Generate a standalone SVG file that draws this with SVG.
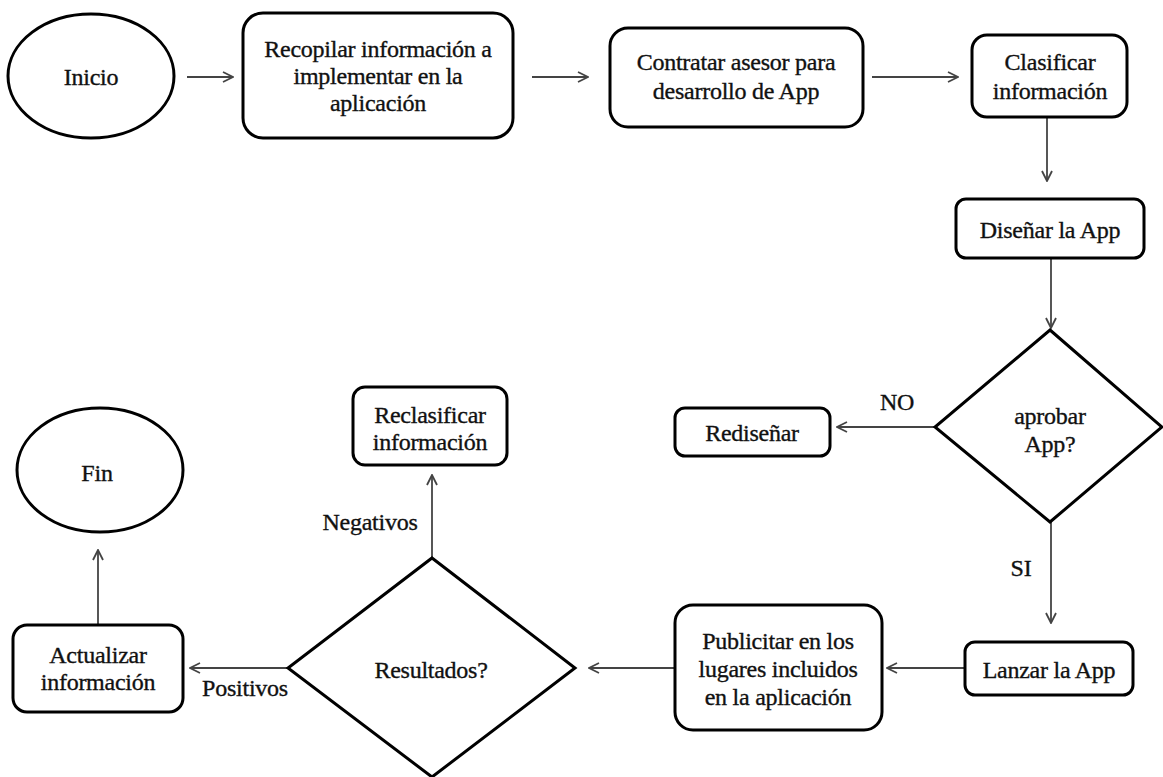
<svg xmlns="http://www.w3.org/2000/svg" width="1163" height="777" viewBox="0 0 1163 777" font-family="Liberation Serif, Times New Roman, DejaVu Serif, serif">
<defs>
<style>
.node{fill:#fff;stroke:#000;stroke-width:3}
.t{font-size:24px;fill:#111;stroke:#111;stroke-width:0.35px;text-anchor:middle;letter-spacing:-0.25px}
.c{fill:none;stroke:#444;stroke-width:1.8}
</style>
<marker id="ah" viewBox="0 0 12 12" refX="11" refY="6" markerWidth="12" markerHeight="12" markerUnits="userSpaceOnUse" orient="auto">
<path d="M1,1 L11,6 L1,11" fill="none" stroke="#444" stroke-width="1.8"/>
</marker>
</defs>
<rect width="1163" height="777" fill="#fff"/>
<g id="connectors">
<line class="c" x1="187" y1="77" x2="233" y2="77" marker-end="url(#ah)"/>
<line class="c" x1="532" y1="77" x2="588" y2="77" marker-end="url(#ah)"/>
<line class="c" x1="872" y1="77" x2="958" y2="77" marker-end="url(#ah)"/>
<line class="c" x1="1047" y1="117" x2="1047" y2="181" marker-end="url(#ah)"/>
<line class="c" x1="1051" y1="258" x2="1051" y2="328" marker-end="url(#ah)"/>
<line class="c" x1="935" y1="427" x2="837" y2="427" marker-end="url(#ah)"/>
<line class="c" x1="1051" y1="522" x2="1051" y2="623" marker-end="url(#ah)"/>
<line class="c" x1="965" y1="668" x2="887" y2="668" marker-end="url(#ah)"/>
<line class="c" x1="675" y1="668" x2="589" y2="668" marker-end="url(#ah)"/>
<line class="c" x1="432" y1="558" x2="432" y2="475" marker-end="url(#ah)"/>
<line class="c" x1="288" y1="668" x2="190" y2="668" marker-end="url(#ah)"/>
<line class="c" x1="98" y1="625" x2="98" y2="550" marker-end="url(#ah)"/>
<text class="t" x="897" y="410">NO</text>
<text class="t" x="1021" y="576">SI</text>
<text class="t" x="370" y="530">Negativos</text>
<text class="t" x="245" y="696">Positivos</text>
</g>
<g id="inicio">
<ellipse class="node" cx="91" cy="76" rx="83" ry="62"/>
<text class="t" x="91" y="85">Inicio</text>
</g>
<g id="recopilar">
<rect class="node" x="243" y="13" width="270" height="125" rx="20"/>
<text class="t" x="378" y="57">Recopilar información a</text>
<text class="t" x="378" y="84">implementar  en la</text>
<text class="t" x="378" y="111">aplicación</text>
</g>
<g id="contratar">
<rect class="node" x="610" y="28" width="253" height="99" rx="18"/>
<text class="t" x="736" y="70">Contratar asesor para</text>
<text class="t" x="736" y="99">desarrollo de App</text>
</g>
<g id="clasificar">
<rect class="node" x="972" y="35" width="155" height="82" rx="15"/>
<text class="t" x="1050" y="70">Clasificar</text>
<text class="t" x="1050" y="99">información</text>
</g>
<g id="disenar">
<rect class="node" x="956" y="199" width="188" height="59" rx="10"/>
<text class="t" x="1050" y="238">Diseñar la App</text>
</g>
<g id="aprobar">
<polygon class="node" points="1050,330 1162,427 1050,522 935,427"/>
<text class="t" x="1050" y="424">aprobar</text>
<text class="t" x="1050" y="452">App?</text>
</g>
<g id="redisenar">
<rect class="node" x="675" y="408" width="155" height="48" rx="10"/>
<text class="t" x="752" y="441">Rediseñar</text>
</g>
<g id="lanzar">
<rect class="node" x="965" y="642" width="168" height="53" rx="10"/>
<text class="t" x="1049" y="678">Lanzar la App</text>
</g>
<g id="publicitar">
<rect class="node" x="675" y="605" width="207" height="125" rx="18"/>
<text class="t" x="778" y="649">Publicitar  en los</text>
<text class="t" x="778" y="677">lugares incluidos</text>
<text class="t" x="778" y="705">en la aplicación</text>
</g>
<g id="resultados">
<polygon class="node" points="432,558 575,668 432,777 288,668"/>
<text class="t" x="431" y="678">Resultados?</text>
</g>
<g id="reclasificar">
<rect class="node" x="353" y="387" width="154" height="78" rx="12"/>
<text class="t" x="430" y="423">Reclasificar</text>
<text class="t" x="430" y="450">información</text>
</g>
<g id="actualizar">
<rect class="node" x="13" y="625" width="170" height="87" rx="14"/>
<text class="t" x="98" y="663">Actualizar</text>
<text class="t" x="98" y="690">información</text>
</g>
<g id="fin">
<ellipse class="node" cx="100" cy="470" rx="83" ry="62"/>
<text class="t" x="97" y="481">Fin</text>
</g>
</svg>
